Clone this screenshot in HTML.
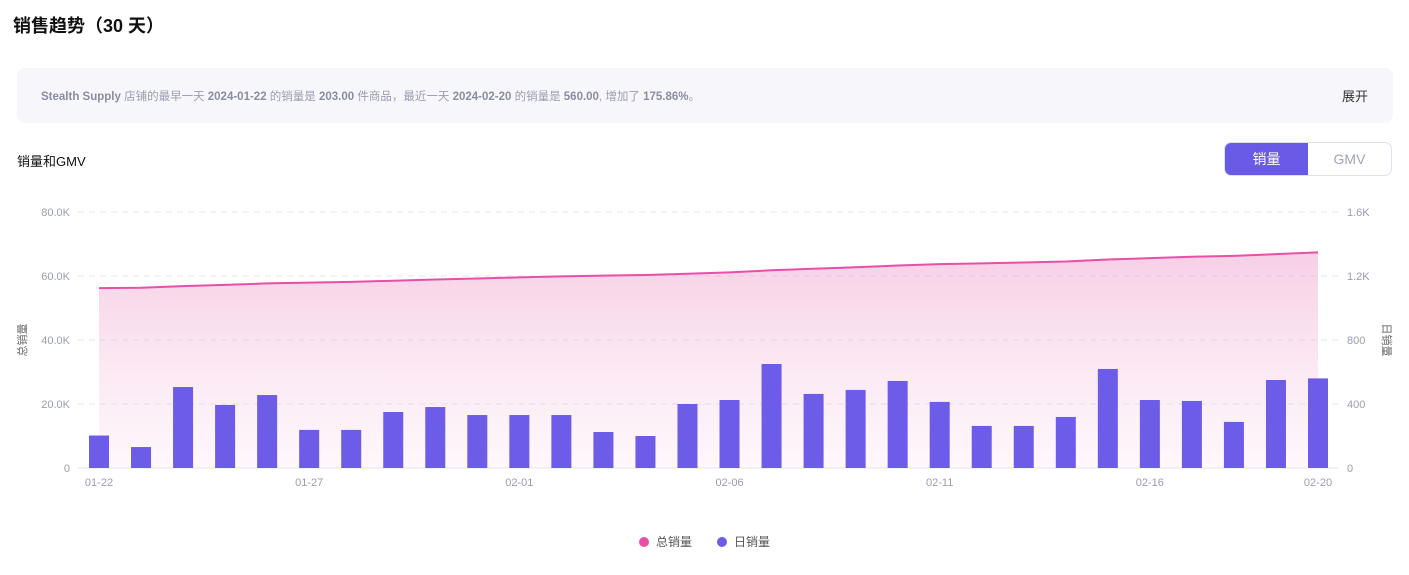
<!DOCTYPE html>
<html><head><meta charset="utf-8"><style>
body{margin:0;width:1409px;height:575px;background:#fff;font-family:"Liberation Sans","Noto Sans CJK SC",sans-serif;position:relative;overflow:hidden}
.t{position:absolute;left:13px;top:12px;font-size:18px;font-weight:bold;color:#111}
.info{position:absolute;left:17px;top:68px;width:1376px;height:55px;background:#f7f7fb;border-radius:8px}
.info .txt{position:absolute;left:24px;top:20px;font-size:11.5px;color:#9a9cb0}
.info b{color:#8a8ca0}
.info .ex{position:absolute;right:25px;top:18px;font-size:13px;color:#333}
.sub{position:absolute;left:17px;top:151px;font-size:13px;color:#111}
.tog{position:absolute;left:1224px;top:142px;width:166px;height:32px;border:1px solid #e0e0ef;border-radius:7px;overflow:hidden;font-size:14px}
.tog div{position:absolute;top:0;height:32px;line-height:32px;text-align:center}
</style></head><body>
<div class="t">销售趋势（30 天）</div>
<div class="info">
<div class="txt"><b>Stealth Supply</b> 店铺的最早一天 <b>2024-01-22</b> 的销量是 <b>203.00</b> 件商品，最近一天 <b>2024-02-20</b> 的销量是 <b>560.00</b>, 增加了 <b>175.86%</b>。</div>
<div class="ex">展开</div>
</div>
<div class="sub">销量和GMV</div>
<div class="tog">
<div style="left:0;width:83px;background:#6a5ae8;color:#fff">销量</div>
<div style="left:83px;width:83px;color:#a0a4b8">GMV</div>
</div>
<svg id="c" width="1409" height="575" style="position:absolute;left:0;top:0">
<defs><linearGradient id="g" x1="0" y1="0" x2="0" y2="1"><stop offset="0" stop-color="#f0a8d0" stop-opacity="0.55"/><stop offset="1" stop-color="#f7cce4" stop-opacity="0.15"/></linearGradient></defs>
</svg>
<script>
const dates=["01-22","01-23","01-24","01-25","01-26","01-27","01-28","01-29","01-30","01-31","02-01","02-02","02-03","02-04","02-05","02-06","02-07","02-08","02-09","02-10","02-11","02-12","02-13","02-14","02-15","02-16","02-17","02-18","02-19","02-20"];
const daily=[203,131,506,394,456,238,238,350,381,331,331,331,225,200,400,425,650,463,488,544,413,263,263,319,619,425,419,288,550,560];
const total=[56200,56331,56837,57231,57687,57925,58163,58513,58894,59225,59556,59887,60112,60312,60712,61137,61787,62250,62738,63282,63695,63958,64221,64540,65159,65584,66003,66291,66841,67401];
const leftTicks=["0","20.0K","40.0K","60.0K","80.0K"];
const rightTicks=["0","400","800","1.2K","1.6K"];
const svg=document.getElementById('c');const NS="http://www.w3.org/2000/svg";
function mk(t,a,p){const e=document.createElementNS(NS,t);for(const k in a)e.setAttribute(k,a[k]);(p||svg).appendChild(e);return e;}
const x=i=>99+i*(1318-99)/(dates.length-1);
const yL=v=>468-v/80000*256;
const yR=v=>468-v/1600*256;
for(let i=0;i<5;i++){const y=468-i*64;
 const gl=mk('line',{x1:78,x2:1338,y1:y,y2:y,stroke:'#e4e4ee','stroke-dasharray':i?'6 5':'0',});
 
 const a=mk('text',{x:70,y:y+4,'text-anchor':'end','font-size':11,fill:'#9a9cb0'});a.textContent=leftTicks[i];
 
 const b=mk('text',{x:1347,y:y+4,'font-size':11,fill:'#9a9cb0'});b.textContent=rightTicks[i];
 
}
let d='M'+x(0)+','+yL(total[0]);total.forEach((v,i)=>{d+=' L'+x(i)+','+yL(v);});
const area=mk('path',{d:d+' L'+x(total.length-1)+',468 L'+x(0)+',468 Z',fill:'url(#g)'});

daily.forEach((v,i)=>{const r=mk('rect',{x:x(i)-10,y:yR(v),width:20,height:468-yR(v),fill:'#6c5ce7'});
 });
const ln=mk('path',{d:d,fill:'none',stroke:'#e84fa8','stroke-width':2});

dates.forEach((s,i)=>{if(i%5==0||i==dates.length-1){const t=mk('text',{x:x(i),y:486,'text-anchor':'middle','font-size':11,fill:'#9a9cb0'});t.textContent=s;
 }});
const yt1=mk('text',{transform:'translate(26,340) rotate(-90)','text-anchor':'middle','font-size':11,fill:'#666'});yt1.textContent='总销量';

const yt2=mk('text',{transform:'translate(1383,340) rotate(90)','text-anchor':'middle','font-size':11,fill:'#666'});yt2.textContent='日销量';

const l1=mk('circle',{cx:644,cy:542,r:5,fill:'#e84fa8'});
const lt1=mk('text',{x:656,y:546,'font-size':12,fill:'#555'});lt1.textContent='总销量';
const l2=mk('circle',{cx:722,cy:542,r:5,fill:'#6c5ce7'});
const lt2=mk('text',{x:734,y:546,'font-size':12,fill:'#555'});lt2.textContent='日销量';
</script>
</body></html>
